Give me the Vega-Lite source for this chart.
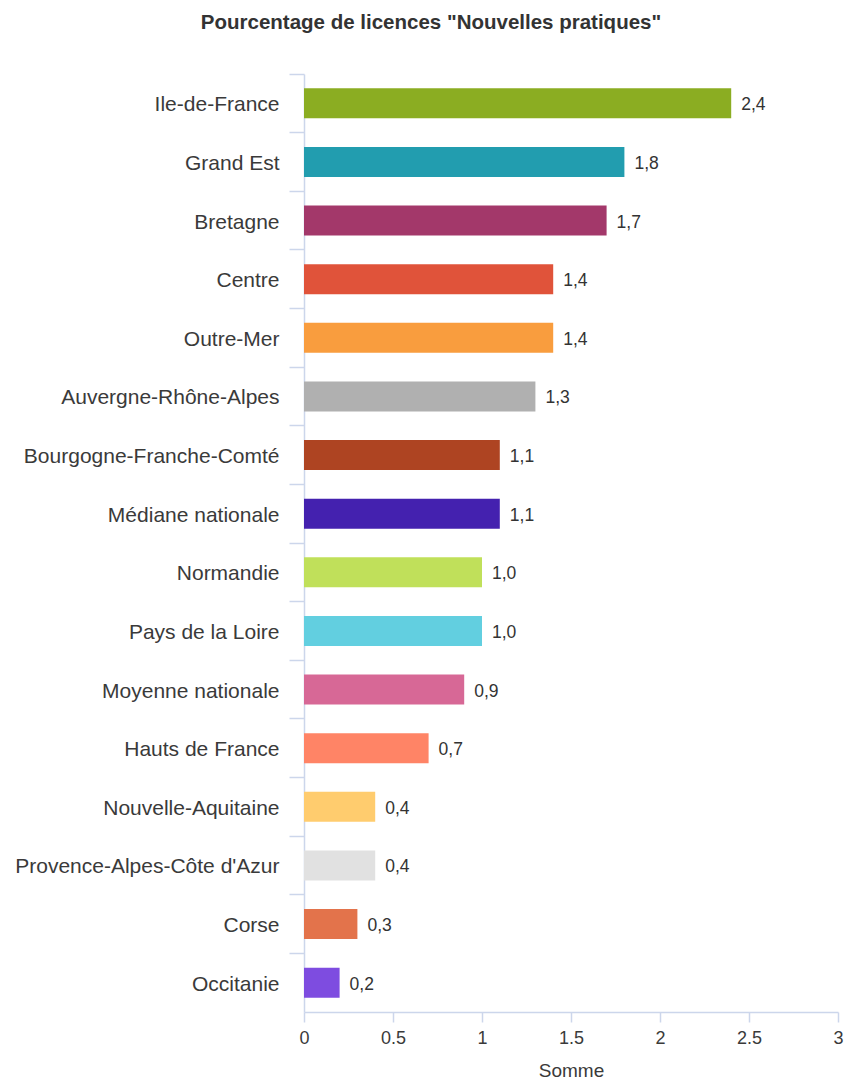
{
  "$schema": "https://vega.github.io/schema/vega-lite/v6.json",
  "width": 534,
  "height": 938,
  "autosize": {"type": "none"},
  "padding": {"left": 304, "top": 74, "right": 9, "bottom": 70},
  "background": "white",
  "title": {
    "text": "Pourcentage de licences \"Nouvelles pratiques\"",
    "font": "Liberation Sans",
    "fontSize": 20.5,
    "fontWeight": "bold",
    "color": "#333333",
    "anchor": "middle",
    "frame": "group",
    "dx": -140,
    "offset": 40
  },
  "data": {
    "values": [
      {"region": "Ile-de-France", "value": 2.4, "label": "2,4"},
      {"region": "Grand Est", "value": 1.8, "label": "1,8"},
      {"region": "Bretagne", "value": 1.7, "label": "1,7"},
      {"region": "Centre", "value": 1.4, "label": "1,4"},
      {"region": "Outre-Mer", "value": 1.4, "label": "1,4"},
      {"region": "Auvergne-Rhône-Alpes", "value": 1.3, "label": "1,3"},
      {"region": "Bourgogne-Franche-Comté", "value": 1.1, "label": "1,1"},
      {"region": "Médiane nationale", "value": 1.1, "label": "1,1"},
      {"region": "Normandie", "value": 1.0, "label": "1,0"},
      {"region": "Pays de la Loire", "value": 1.0, "label": "1,0"},
      {"region": "Moyenne nationale", "value": 0.9, "label": "0,9"},
      {"region": "Hauts de France", "value": 0.7, "label": "0,7"},
      {"region": "Nouvelle-Aquitaine", "value": 0.4, "label": "0,4"},
      {"region": "Provence-Alpes-Côte d'Azur", "value": 0.4, "label": "0,4"},
      {"region": "Corse", "value": 0.3, "label": "0,3"},
      {"region": "Occitanie", "value": 0.2, "label": "0,2"}
    ]
  },
  "encoding": {
    "y": {
      "field": "region",
      "type": "nominal",
      "sort": null,
      "scale": {"paddingInner": 0.49, "paddingOuter": 0.245},
      "axis": {
        "title": null,
        "bandPosition": -0.48,
        "tickSize": 15,
        "tickColor": "#ccd6eb",
        "tickWidth": 1.5,
        "domainColor": "#ccd6eb",
        "domainWidth": 1.5,
        "labelPadding": 10,
        "labelOffset": 2,
        "labelFont": "Liberation Sans",
        "labelFontSize": 21,
        "labelColor": "#3a3a3a",
        "labelLimit": 400
      }
    },
    "x": {
      "field": "value",
      "type": "quantitative",
      "scale": {"domain": [0, 3], "nice": false},
      "axis": {
        "title": "Somme",
        "values": [0, 0.5, 1, 1.5, 2, 2.5, 3],
        "format": "~g",
        "grid": false,
        "tickSize": 10,
        "tickColor": "#ccd6eb",
        "tickWidth": 1.5,
        "domainColor": "#ccd6eb",
        "domainWidth": 1.5,
        "labelPadding": 7,
        "labelFont": "Liberation Sans",
        "labelFontSize": 18,
        "labelColor": "#3a3a3a",
        "labelFlush": false,
        "titleFont": "Liberation Sans",
        "titleFontSize": 19,
        "titleFontWeight": "normal",
        "titleColor": "#3a3a3a",
        "titlePadding": 14
      }
    }
  },
  "layer": [
    {
      "mark": {"type": "bar"},
      "encoding": {
        "color": {
          "field": "region",
          "type": "nominal",
          "legend": null,
          "scale": {
            "domain": ["Ile-de-France", "Grand Est", "Bretagne", "Centre", "Outre-Mer", "Auvergne-Rhône-Alpes", "Bourgogne-Franche-Comté", "Médiane nationale", "Normandie", "Pays de la Loire", "Moyenne nationale", "Hauts de France", "Nouvelle-Aquitaine", "Provence-Alpes-Côte d'Azur", "Corse", "Occitanie"],
            "range": ["#8bad22", "#229daf", "#a3386a", "#e0533a", "#f99d3e", "#b0b0b0", "#ae4422", "#4421af", "#c0e05a", "#62cfe0", "#d76896", "#ff8466", "#ffcc6e", "#e1e1e1", "#e3734b", "#7e4ce0"]
          }
        }
      }
    },
    {
      "mark": {"type": "text", "align": "left", "baseline": "middle", "dx": 10, "dy": 2, "font": "Liberation Sans", "fontSize": 17.5, "color": "#333333"},
      "encoding": {"text": {"field": "label"}}
    }
  ],
  "config": {"view": {"stroke": null}}
}
